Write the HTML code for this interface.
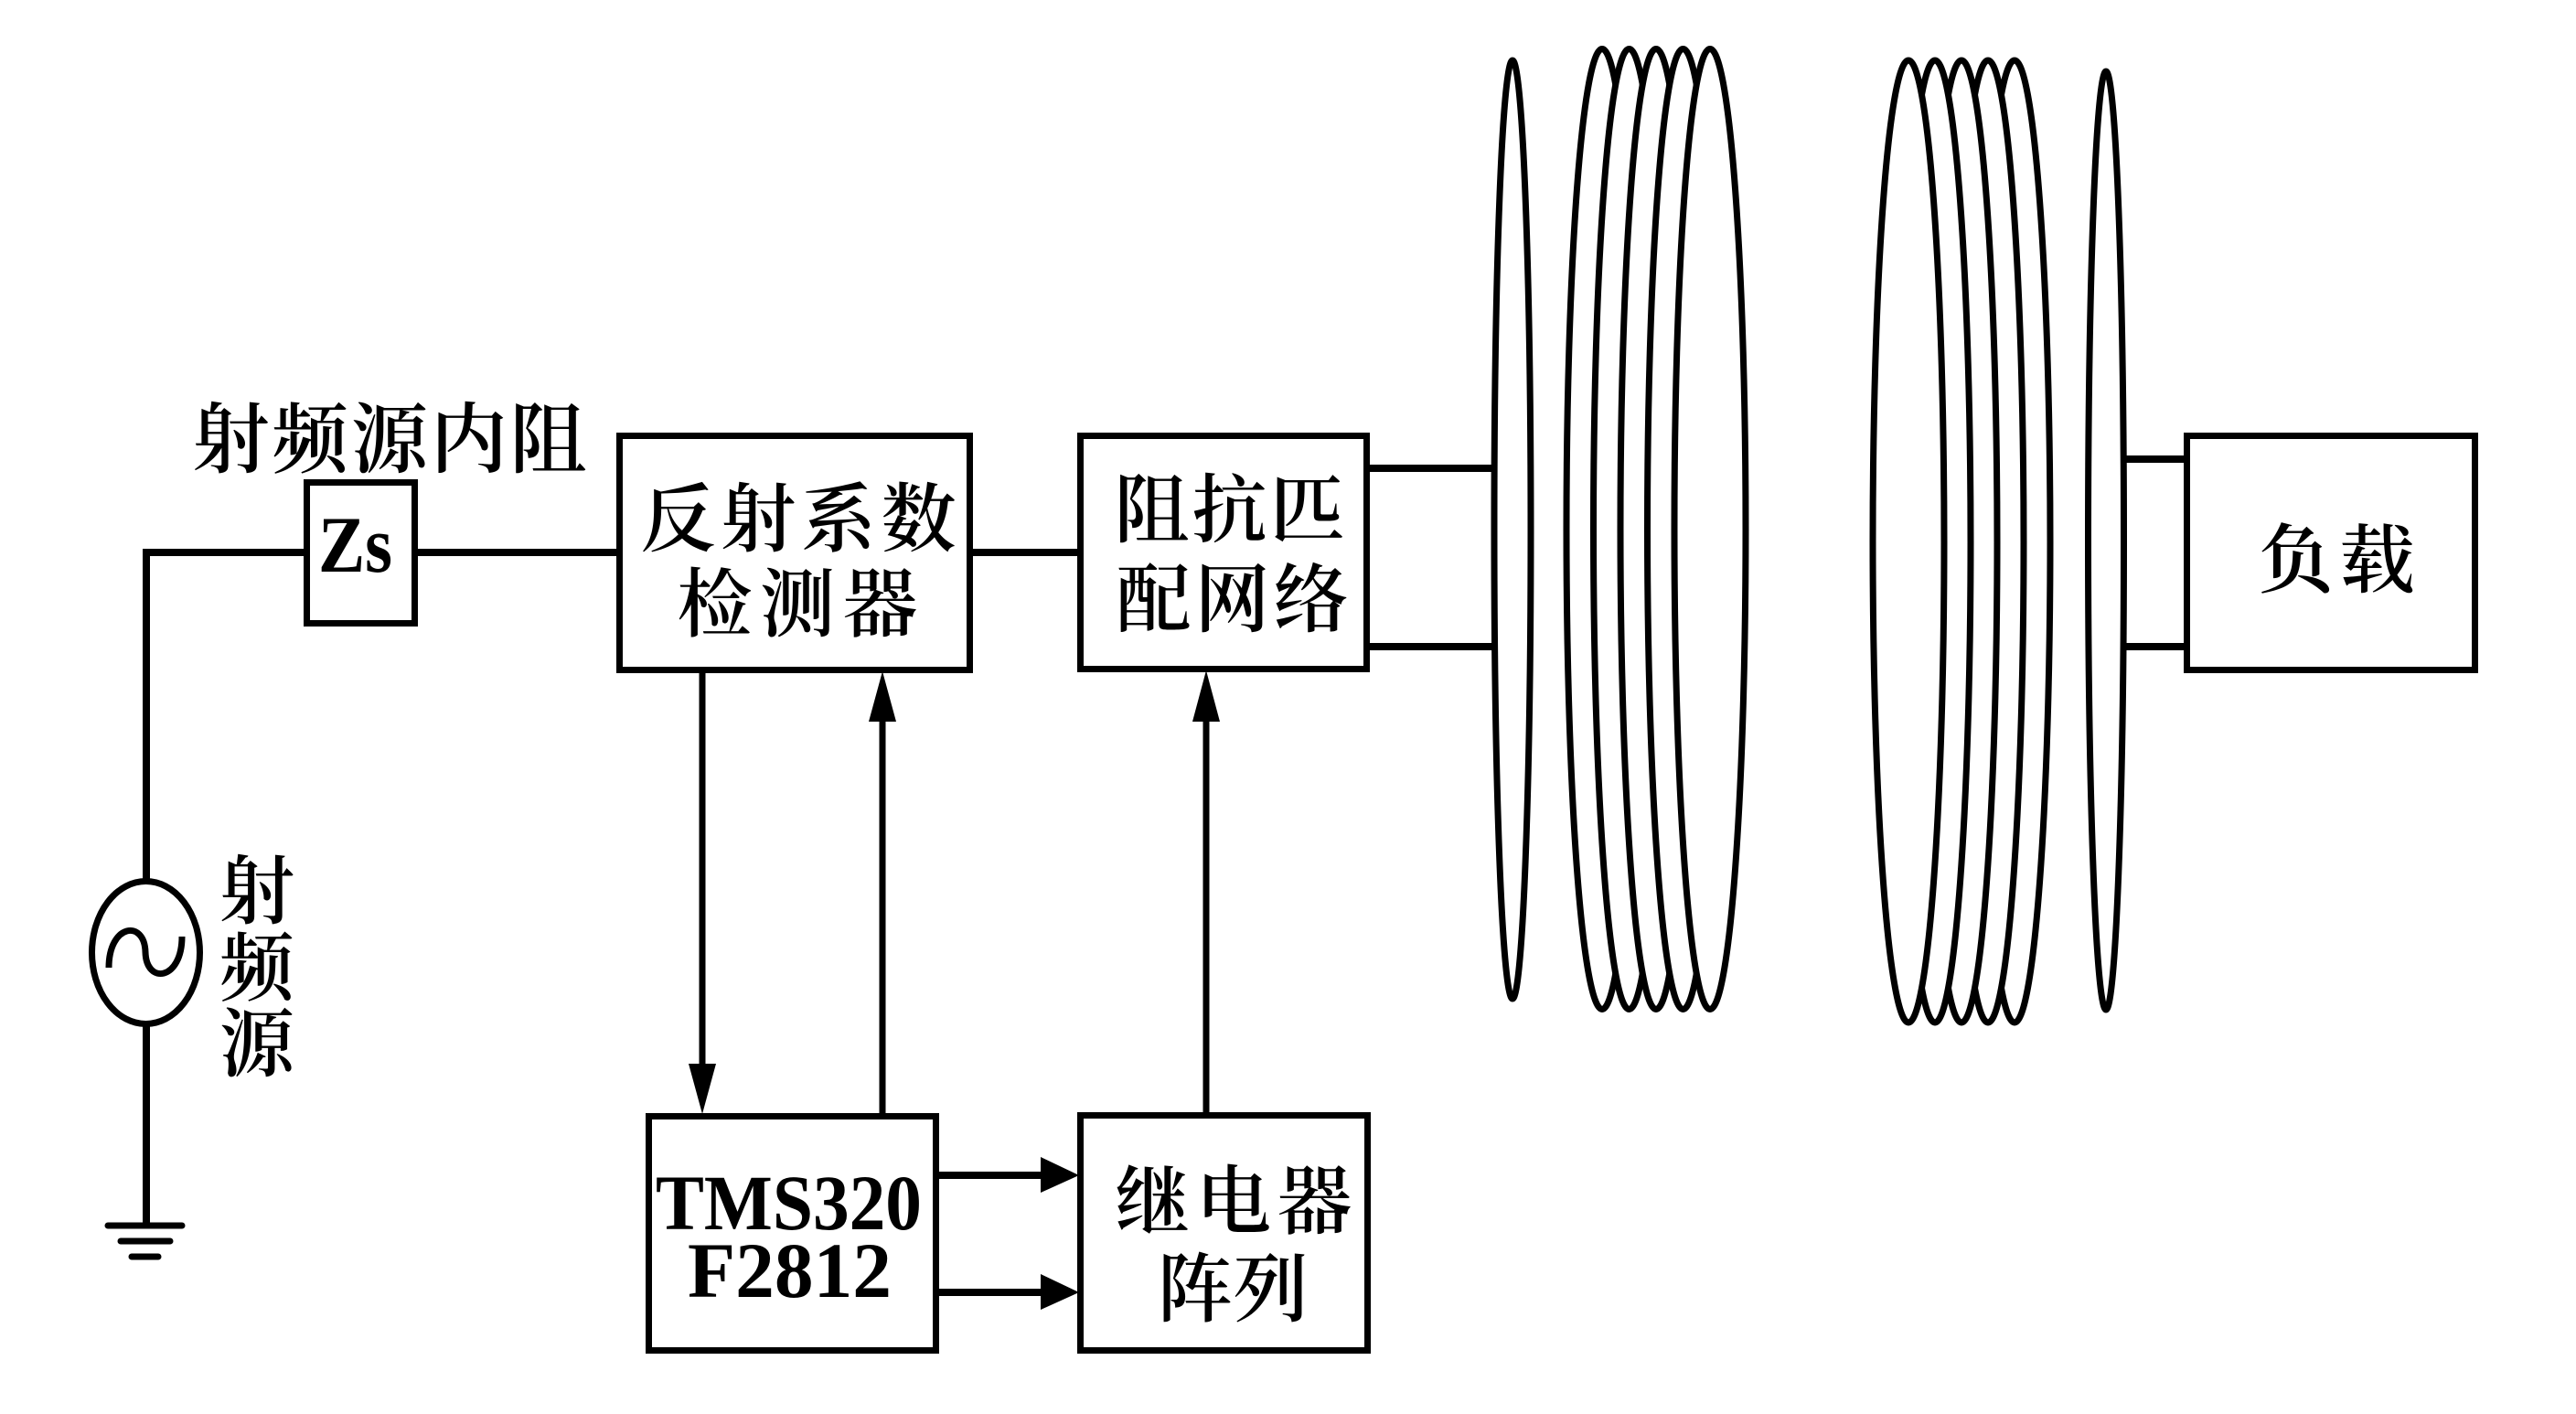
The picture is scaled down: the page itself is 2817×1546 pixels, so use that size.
<!DOCTYPE html>
<html>
<head>
<meta charset="utf-8">
<style>
  html, body { margin: 0; padding: 0; background: #ffffff; }
  svg { display: block; }
  .cjk { font-family: "Liberation Serif", "Noto Serif CJK SC", serif; font-weight: 600; fill: #000; }
  .lat { font-family: "Liberation Serif", serif; font-weight: bold; fill: #000; }
</style>
</head>
<body>
<svg width="2817" height="1546" viewBox="0 0 2817 1546" xmlns="http://www.w3.org/2000/svg">
  <rect x="0" y="0" width="2817" height="1546" fill="#ffffff"/>

  <!-- wires -->
  <g stroke="#000" stroke-width="8" fill="none" stroke-linejoin="miter">
    <polyline points="160,962 160,604 336,604"/>
    <line x1="454" y1="604" x2="678" y2="604"/>
    <line x1="1060" y1="604" x2="1182" y2="604"/>
    <line x1="160" y1="1121" x2="160" y2="1340"/>
    <line x1="1494" y1="512" x2="1636" y2="512"/>
    <line x1="1494" y1="707" x2="1636" y2="707"/>
    <line x1="2320" y1="502" x2="2392" y2="502"/>
    <line x1="2320" y1="707" x2="2392" y2="707"/>
  </g>

  <!-- ground -->
  <g stroke="#000" stroke-width="7" stroke-linecap="round">
    <line x1="118" y1="1340" x2="199" y2="1340"/>
    <line x1="132" y1="1357" x2="186" y2="1357"/>
    <line x1="144" y1="1374" x2="173" y2="1374"/>
  </g>

  <!-- source -->
  <ellipse cx="159.5" cy="1041.5" rx="59" ry="78" fill="#fff" stroke="#000" stroke-width="7"/>
  <path d="M119,1058 C119,1010 158,1005 159,1041 C160,1077 199,1072 199,1024" fill="none" stroke="#000" stroke-width="7"/>

  <!-- boxes -->
  <g stroke="#000" stroke-width="7" fill="#fff">
    <rect x="335.5" y="527.5" width="118" height="154"/>
    <rect x="677.5" y="476.5" width="383" height="256"/>
    <rect x="1181.5" y="476.5" width="313" height="255"/>
    <rect x="2391.5" y="476.5" width="315" height="256"/>
    <rect x="709.5" y="1220.5" width="314" height="256"/>
    <rect x="1181.5" y="1219.5" width="314" height="257"/>
  </g>

  <!-- arrows -->
  <g stroke="#000" stroke-width="7">
    <line x1="768" y1="733" x2="768" y2="1166"/>
    <line x1="965" y1="1221" x2="965" y2="786"/>
    <line x1="1319" y1="1220" x2="1319" y2="786"/>
  </g>
  <g stroke="#000" stroke-width="8">
    <line x1="1024" y1="1285" x2="1140" y2="1285"/>
    <line x1="1024" y1="1413" x2="1140" y2="1413"/>
  </g>
  <g fill="#000">
    <polygon points="753,1163 783,1163 768,1218"/>
    <polygon points="950,789 980,789 965,734"/>
    <polygon points="1304,789 1334,789 1319,733"/>
    <polygon points="1138,1265 1138,1304 1180,1285"/>
    <polygon points="1138,1393 1138,1432 1180,1413"/>
  </g>

  <!-- coils -->
  <g fill="#fff" stroke="#000" stroke-width="7">
    <ellipse cx="1654" cy="579" rx="20" ry="513"/>
    <!-- left group: left to right, later on top -->
    <ellipse cx="1752" cy="578.5" rx="39" ry="525"/>
    <ellipse cx="1781.5" cy="578.5" rx="39" ry="525"/>
    <ellipse cx="1811" cy="578.5" rx="39" ry="525"/>
    <ellipse cx="1840.5" cy="578.5" rx="39" ry="525"/>
    <ellipse cx="1870" cy="578.5" rx="39" ry="525"/>
    <!-- right group: right to left, later on top -->
    <ellipse cx="2203" cy="592" rx="39" ry="526"/>
    <ellipse cx="2174" cy="592" rx="39" ry="526"/>
    <ellipse cx="2145" cy="592" rx="39" ry="526"/>
    <ellipse cx="2116" cy="592" rx="39" ry="526"/>
    <ellipse cx="2087" cy="592" rx="39" ry="526"/>
    <ellipse cx="2303" cy="591" rx="19.5" ry="513"/>
  </g>

  <!-- labels -->
  <text class="cjk" x="426" y="510" font-size="84" text-anchor="middle" textLength="431">射频源内阻</text>
  <text class="cjk" x="873" y="596" font-size="82" text-anchor="middle" textLength="345">反射系数</text>
  <text class="cjk" x="872" y="689" font-size="82" text-anchor="middle" textLength="263">检测器</text>
  <text class="cjk" x="1344.5" y="586" font-size="82" text-anchor="middle" textLength="252">阻抗匹</text>
  <text class="cjk" x="1347.5" y="684" font-size="82" text-anchor="middle" textLength="254">配网络</text>
  <text class="cjk" x="2555" y="641" font-size="82" text-anchor="middle" textLength="171">负载</text>
  <text class="cjk" x="1349" y="1342" font-size="82" text-anchor="middle" textLength="259">继电器</text>
  <text class="cjk" x="1348" y="1438" font-size="82" text-anchor="middle" textLength="165">阵列</text>
  <text class="cjk" x="281" y="1003" font-size="82" text-anchor="middle">射</text>
  <text class="cjk" x="281" y="1087" font-size="82" text-anchor="middle">频</text>
  <text class="cjk" x="281" y="1170" font-size="82" text-anchor="middle">源</text>

  <text class="lat" x="717" y="1344" font-size="86" textLength="291" lengthAdjust="spacingAndGlyphs">TMS320</text>
  <text class="lat" x="752" y="1418" font-size="86" textLength="223" lengthAdjust="spacingAndGlyphs">F2812</text>
  <text class="lat" x="348" y="625" font-size="88" textLength="81" lengthAdjust="spacingAndGlyphs">Zs</text>
</svg>
</body>
</html>
